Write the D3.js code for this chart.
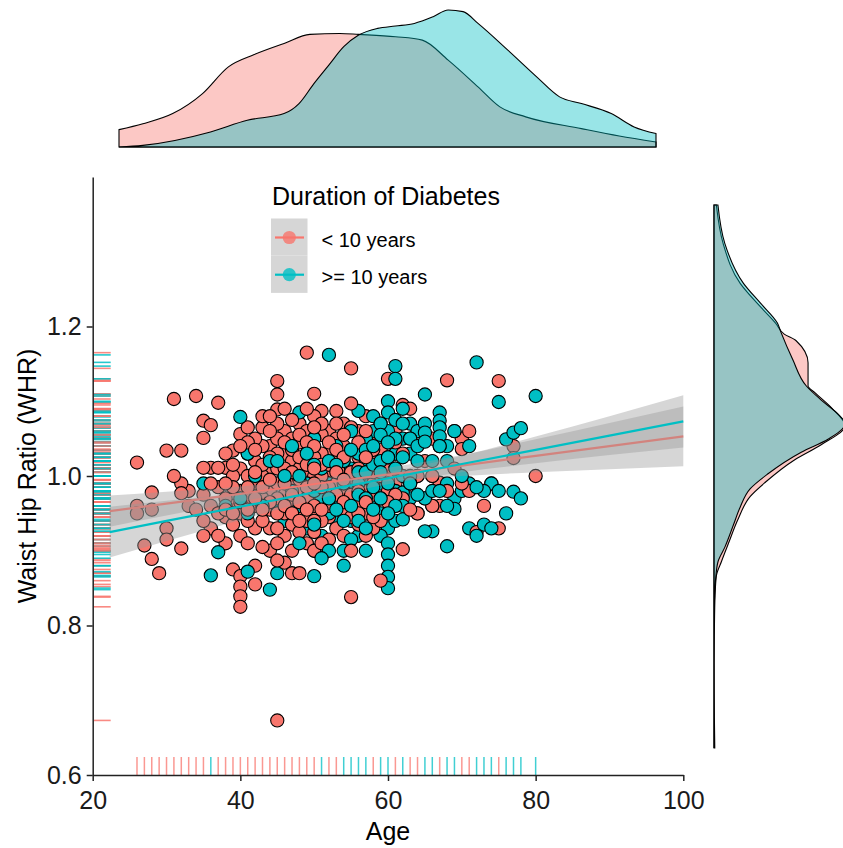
<!DOCTYPE html>
<html>
<head>
<meta charset="utf-8">
<script src="https://cdn.jsdelivr.net/npm/d3@7"></script>
<style>
  body { margin: 0; background: #fff; }
  text { font-family: "Liberation Sans", Arial, sans-serif; }
</style>
</head>
<body>
<div id="vis"></div>
<script>
// frame + panel sizes
const FRAME_WIDTH = 843;
const FRAME_HEIGHT = 848;
const PANEL = {left: 92.7, right: 683.3, top: 177, bottom: 775};

// group labels / colours
const groupLabels = ["< 10 years", ">= 10 years"];
const groupColors = ["#F8766D", "#00BFC4"];

// scatter data [age, WHR], duration < 10 years
const shortDuration = [
  [26,1.018],[26,0.96],[26,0.95],[27,0.907],[28,0.978],[28,0.955],[28,0.889],[29,0.87],
  [30,1.034],[30,0.93],[30,0.915],[31,1.103],[31,1.0],[32,1.034],[32,0.99],[32,0.977],[32,0.903],
  [33,0.98],[33,0.96],[34,1.107],[34,0.955],
  [35,1.074],[35,1.051],[35,1.011],[35,0.975],[35,0.94],[35,0.92],
  [36,1.068],[36,1.011],[36,0.96],[36,0.93],[36,0.99],
  [37,1.098],[37,1.011],[37,0.985],[37,0.92],[37,0.95],
  [38,1.011],[38,1.03],[38,0.97],[38,0.945],[38,0.91],[38,0.99],[38,0.955],
  [39,1.034],[39,1.0],[39,0.96],[39,0.875],[39,0.935],[39,0.985],[39,1.015],[39,0.95],
  [40,1.056],[40,1.01],[40,0.98],[40,0.95],[40,0.92],[40,0.866],[40,0.852],[40,0.839],[40,0.825],[40,0.965],[40,1.04],
  [41,1.065],[41,1.03],[41,1.0],[41,0.97],[41,0.94],[41,0.91],[41,0.985],[41,1.045],[41,0.955],
  [42,1.02],[42,0.99],[42,0.96],[42,0.93],[42,0.88],[42,0.855],[42,1.05],[42,0.97],[42,1.035],[42,1.005],
  [43,1.065],[43,1.04],[43,1.0],[43,0.97],[43,0.94],[43,0.905],[43,1.015],[43,0.985],[43,0.955],[43,1.08],
  [44,1.04],[44,1.01],[44,0.98],[44,0.955],[44,0.93],[44,0.9],[44,1.06],[44,0.965],[44,1.025],[44,0.995],[44,1.08],
  [45,1.127],[45,1.109],[45,1.089],[45,1.07],[45,1.05],[45,1.03],[45,1.01],[45,0.99],[45,0.97],[45,0.95],[45,0.93],[45,0.91],[45,0.887],[45,0.673],
  [46,1.06],[46,1.03],[46,1.0],[46,0.975],[46,0.95],[46,0.92],[46,0.884],[46,1.01],[46,1.045],[46,0.99],[46,0.96],[46,1.09],
  [47,1.05],[47,1.02],[47,0.99],[47,0.96],[47,0.935],[47,0.9],[47,0.87],[47,1.075],[47,1.035],[47,1.005],[47,0.975],[47,0.95],
  [48,1.07],[48,1.045],[48,1.01],[48,0.98],[48,0.95],[48,0.925],[48,0.87],[48,0.995],[48,1.055],[48,1.025],[48,0.965],[48,0.94],
  [49,1.165],[49,1.06],[49,1.03],[49,1.0],[49,0.97],[49,0.94],[49,0.91],[49,0.985],[49,1.045],[49,1.015],[49,0.955],[49,1.09],
  [50,1.11],[50,1.08],[50,1.05],[50,1.025],[50,1.0],[50,0.975],[50,0.95],[50,0.925],[50,0.9],[50,0.96],[50,1.065],[50,1.04],[50,1.01],[50,0.99],[50,0.94],
  [51,1.087],[51,1.055],[51,1.03],[51,1.0],[51,0.97],[51,0.94],[51,0.91],[51,1.07],[51,1.015],[51,0.985],[51,0.955],
  [52,1.06],[52,1.03],[52,1.0],[52,0.975],[52,0.945],[52,0.915],[52,1.045],[52,1.015],[52,0.985],[52,0.96],
  [53,1.087],[53,1.05],[53,1.02],[53,0.99],[53,0.96],[53,0.93],[53,1.07],[53,1.035],[53,1.005],[53,0.975],
  [54,1.07],[54,1.04],[54,1.01],[54,0.98],[54,0.95],[54,0.92],[54,1.055],[54,1.025],[54,0.995],[54,0.965],
  [55,1.144],[55,1.097],[55,1.065],[55,1.035],[55,1.005],[55,0.975],[55,0.945],[55,0.9],[55,0.838],
  [56,1.06],[56,1.025],[56,0.995],[56,0.965],[56,0.935],[56,1.045],[56,1.01],[56,0.98],[56,0.95],
  [57,1.08],[57,1.045],[57,1.01],[57,0.98],[57,0.95],[57,0.92],[57,1.06],[57,1.025],[57,0.965],
  [58,1.05],[58,1.02],[58,0.99],[58,0.96],[58,0.93],[58,1.035],[58,1.005],[58,0.975],[58,0.945],
  [59,1.07],[59,1.035],[59,1.0],[59,0.97],[59,0.94],[59,0.86],
  [60,1.13],[60,1.045],[60,1.01],[60,0.98],[60,0.95],[60,1.025],[60,0.995],[60,0.965],
  [61,1.06],[61,1.03],[61,0.99],[61,0.96],[61,1.045],[61,1.01],[61,0.975],
  [62,1.095],[62,1.03],[62,0.97],[62,0.902],
  [63,1.09],[63,1.05],[63,0.99],[63,0.955],
  [64,1.06],[64,1.0],[64,0.95],[65,1.02],[65,0.97],[66,1.05],[66,1.0],[66,0.96],
  [67,0.991],[67,0.96],[67,1.04],[68,1.128],[68,0.98],[69,1.06],[69,1.01],
  [70,1.05],[70,1.036],[70,0.99],[71,1.06],[71,0.98],[72,0.925],[73,0.96],[74,0.99],
  [75,1.127],[75,0.93],[77,1.04],[77,1.024],[80,1.0]
];

// scatter data [age, WHR], duration >= 10 years
const longDuration = [
  [35,0.99],[36,0.867],[37,0.898],[38,0.96],[40,1.079],[40,0.97],[41,1.03],[41,0.872],[41,0.95],
  [42,1.0],[43,0.96],[44,0.848],[44,1.02],[45,0.87],[45,0.96],[45,1.02],[46,0.94],[46,1.0],
  [47,0.98],[47,1.04],[48,1.085],[48,0.96],[48,0.91],[48,1.0],[49,0.93],[49,0.99],[49,1.03],
  [50,0.866],[50,0.95],[50,0.9],[50,0.98],[50,1.05],[50,1.015],[50,0.935],
  [51,0.92],[51,0.97],[51,1.01],[51,0.89],
  [52,1.162],[52,0.99],[52,0.95],[52,0.9],[52,1.02],[52,0.97],
  [53,1.0],[53,0.94],[53,1.04],[53,0.97],[53,1.015],[53,0.955],
  [54,0.9],[54,0.96],[54,1.02],[54,0.88],[54,0.99],[54,0.94],
  [55,0.98],[55,0.94],[55,1.01],[55,1.06],[55,0.915],[55,1.035],[55,0.96],
  [56,1.087],[56,0.96],[56,0.92],[56,1.03],[56,0.99],[56,1.005],[56,0.975],[56,0.94],
  [57,0.99],[57,0.95],[57,0.9],[57,1.05],[57,1.02],[57,1.035],[57,1.005],[57,0.97],[57,0.93],
  [58,1.06],[58,1.0],[58,0.93],[58,0.97],[58,1.08],[58,1.04],[58,1.015],[58,0.985],[58,0.955],
  [59,1.04],[59,0.99],[59,0.95],[59,0.92],[59,1.07],[59,1.055],[59,1.02],[59,1.005],[59,0.97],
  [60,1.1],[60,1.085],[60,1.06],[60,1.01],[60,0.97],[60,0.93],[60,0.91],[60,0.895],[60,0.88],[60,0.865],[60,0.85],
  [60,1.045],[60,1.025],[60,0.99],[60,0.95],
  [61,1.147],[61,1.13],[61,1.03],[61,0.98],[61,0.94],[61,1.075],[61,1.05],[61,1.01],[61,0.96],
  [62,1.09],[62,1.05],[62,1.0],[62,0.978],[62,0.96],[62,0.942],[62,1.025],[62,1.07],
  [63,1.07],[63,1.03],[63,0.97],[63,1.05],[63,1.0],[63,0.99],
  [64,1.06],[64,1.0],[64,0.95],[64,1.04],[64,1.02],[64,0.975],
  [65,1.109],[65,1.07],[65,1.058],[65,1.046],[65,0.97],[65,0.926],[66,0.926],[66,1.0],[66,0.96],[66,1.02],[66,0.98],
  [67,1.085],[67,1.074],[67,1.065],[67,1.053],[67,1.04],[67,0.98],[68,0.906],[68,0.99],[68,1.02],[68,1.04],[68,0.96],
  [69,0.97],[69,0.956],[69,1.06],[70,0.98],[70,1.0],[71,0.93],[71,0.99],[71,1.04],
  [72,1.152],[72,0.92],[72,0.985],[73,0.935],[73,0.98],[74,0.99],[74,0.93],[75,1.099],[75,0.98],
  [76,1.049],[76,0.95],[77,1.058],[77,0.979],[78,1.064],[78,0.97],[80,1.107]
];

// bottom rug: ages and which group shows on top (0 = <10, 1 = >=10)
const rugAges = [26,27,28,29,30,31,32,33,34,35,36,37,38,39,40,41,42,43,44,45,46,47,48,49,50,
  51,52,53,54,55,56,57,58,59,60,61,62,63,64,65,66,67,68,69,70,71,72,73,74,75,76,77,78,80];
const rugGroups = [0,0,0,0,0,0,0,0,0,0,1,0,0,0,0,0,0,0,0,0,0,0,0,0,0,
  1,0,0,1,1,1,1,0,1,1,0,1,0,0,1,1,0,1,1,0,0,1,1,1,0,1,1,1,1];

// linear fits with confidence half widths, read at these ages
const fitAges = [22.3, 30, 40, 50, 60, 70, 80, 90, 100];
const fitShort = [0.953, 0.963, 0.976, 0.989, 1.002, 1.014, 1.027, 1.040, 1.053];
const fitLong = [0.925, 0.940, 0.959, 0.978, 0.997, 1.016, 1.035, 1.054, 1.073];
const seShort = [0.021, 0.016, 0.010, 0.007, 0.009, 0.014, 0.022, 0.031, 0.040];
const seLong = [0.034, 0.027, 0.018, 0.010, 0.008, 0.011, 0.018, 0.026, 0.035];

// top marginal density of age (relative height)
const ageDensShortX = [26, 28.4, 31.4, 34.4, 37.0, 39.6, 42.6, 45.2, 48.2, 50.1, 53.8, 56.5, 59.1, 62.1, 64.3, 66.9, 72.5, 76.3, 80];
const ageDensShortY = [0.127, 0.17, 0.244, 0.39, 0.585, 0.675, 0.756, 0.822, 0.829, 0.822, 0.805, 0.78, 0.634, 0.439, 0.293, 0.22, 0.134, 0.08, 0.037];
const ageDensLongX = [26, 28.4, 35.2, 38.9, 42.6, 44.1, 45.6, 47.1, 48.6, 50.1, 52.0, 53.8, 55.7, 57.6, 59.1, 60.6, 62.1, 65.1, 68.0, 70.3, 72.5, 75.5, 77.8, 80];
const ageDensLongY = [0, 0.012, 0.11, 0.195, 0.244, 0.317, 0.463, 0.598, 0.732, 0.817, 0.866, 0.883, 0.902, 0.951, 1.0, 0.988, 0.902, 0.707, 0.512, 0.366, 0.317, 0.244, 0.146, 0.098];

// right marginal density of WHR (relative width)
const whrDensShortX = [1.165, 1.13, 1.094, 1.076, 1.058, 1.048, 1.042, 1.022, 1.001, 0.995, 0.981, 0.965, 0.948, 0.934, 0.914, 0.901, 0.881, 0.858, 0.842, 0.829, 0.811, 0.78, 0.75, 0.70, 0.673];
const whrDensShortY = [0.018, 0.07, 0.2, 0.329, 0.47, 0.536, 0.627, 0.718, 0.718, 0.77, 0.899, 1.0, 0.821, 0.614, 0.394, 0.277, 0.186, 0.109, 0.057, 0.018, 0.008, 0.003, 0.001, 0.003, 0.006];
const whrDensLongX = [1.165, 1.13, 1.094, 1.076, 1.058, 1.05, 1.025, 1.001, 0.988, 0.975, 0.967, 0.953, 0.941, 0.921, 0.908, 0.891, 0.875, 0.855, 0.842, 0.827, 0.811, 0.79, 0.673];
const whrDensLongY = [0.03, 0.083, 0.225, 0.355, 0.484, 0.51, 0.601, 0.705, 0.821, 0.951, 1.0, 0.873, 0.666, 0.407, 0.277, 0.199, 0.148, 0.083, 0.031, 0.013, 0.005, 0, 0];

// axis ticks
const xTicks = [20, 40, 60, 80, 100];
const yTicks = [0.6, 0.8, 1.0, 1.2];

const FRAME = d3.select("#vis")
  .append("svg")
  .attr("width", FRAME_WIDTH)
  .attr("height", FRAME_HEIGHT);

// scales for main panel
const X_SCALE = d3.scaleLinear().domain([20, 100]).range([PANEL.left, PANEL.right]);
const Y_SCALE = d3.scaleLinear().domain([0.6, 1.4]).range([PANEL.bottom, PANEL.top]);

// scales for marginal plots
const TOP_X = d3.scaleLinear().domain([26, 80]).range([119, 656]);
const TOP_Y = d3.scaleLinear().domain([0, 1]).range([147, 10]);
const RIGHT_Y = d3.scaleLinear().domain([0.673, 1.165]).range([748, 205]);
const RIGHT_X = d3.scaleLinear().domain([0, 1]).range([714, 845]);

// top density
function topDensity(xs, ys, color) {
  const pts = xs.map((x, i) => [x, ys[i]]);
  const area = d3.area()
    .x(d => TOP_X(d[0]))
    .y0(TOP_Y(0))
    .y1(d => TOP_Y(d[1]))
    .curve(d3.curveMonotoneX);
  FRAME.append("path")
    .attr("d", area(pts) + "Z")
    .attr("fill", color)
    .attr("fill-opacity", 0.4)
    .attr("stroke", "black")
    .attr("stroke-width", 1.1);
}
topDensity(ageDensShortX, ageDensShortY, groupColors[0]);
topDensity(ageDensLongX, ageDensLongY, groupColors[1]);

// right density
function rightDensity(ys, ws, color) {
  const pts = ys.map((y, i) => [y, ws[i]]);
  const area = d3.area()
    .y(d => RIGHT_Y(d[0]))
    .x0(RIGHT_X(0))
    .x1(d => RIGHT_X(d[1]))
    .curve(d3.curveMonotoneY);
  FRAME.append("path")
    .attr("d", area(pts) + "Z")
    .attr("fill", color)
    .attr("fill-opacity", 0.4)
    .attr("stroke", "black")
    .attr("stroke-width", 1.1);
}
rightDensity(whrDensShortX, whrDensShortY, groupColors[0]);
rightDensity(whrDensLongX, whrDensLongY, groupColors[1]);

// merge both groups; draw order mixes them inside every age column
const allPoints = [];
[shortDuration, longDuration].forEach((arr, g) => {
  const counts = d3.rollup(arr, v => v.length, d => d[0]);
  const seen = new Map();
  arr.forEach(p => {
    const r = seen.get(p[0]) || 0;
    seen.set(p[0], r + 1);
    allPoints.push({age: p[0], whr: p[1], g: g, k: (r + 0.3 + 0.4 * g) / counts.get(p[0])});
  });
});
allPoints.sort((a, b) => a.k - b.k);

FRAME.append("g").selectAll("circle")
  .data(allPoints)
  .enter()
  .append("circle")
  .attr("cx", d => X_SCALE(d.age))
  .attr("cy", d => Y_SCALE(d.whr))
  .attr("r", 6.6)
  .attr("fill", d => groupColors[d.g])
  .attr("stroke", "black")
  .attr("stroke-width", 1.1);

// left rug from the WHR values, same order as the points
FRAME.append("g").selectAll("line")
  .data(allPoints)
  .enter()
  .append("line")
  .attr("x1", PANEL.left + 1)
  .attr("x2", PANEL.left + 18)
  .attr("y1", d => Y_SCALE(d.whr))
  .attr("y2", d => Y_SCALE(d.whr))
  .attr("stroke", d => groupColors[d.g])
  .attr("stroke-opacity", 0.85)
  .attr("stroke-width", 1.6);

// bottom rug
FRAME.append("g").selectAll("line")
  .data(rugAges)
  .enter()
  .append("line")
  .attr("x1", d => X_SCALE(d))
  .attr("x2", d => X_SCALE(d))
  .attr("y1", PANEL.bottom - 18)
  .attr("y2", PANEL.bottom)
  .attr("stroke", (d, i) => groupColors[rugGroups[i]])
  .attr("stroke-opacity", 0.75)
  .attr("stroke-width", 1.5);

// confidence bands + fitted lines, one group at a time
function smooth(fit, se, color) {
  const pts = fitAges.map((a, i) => ({a: a, f: fit[i], s: se[i]}));
  const band = d3.area()
    .x(d => X_SCALE(d.a))
    .y0(d => Y_SCALE(d.f - d.s))
    .y1(d => Y_SCALE(d.f + d.s))
    .curve(d3.curveMonotoneX);
  FRAME.append("path")
    .attr("d", band(pts))
    .attr("fill", "#999999")
    .attr("fill-opacity", 0.4);
  const line = d3.line()
    .x(d => X_SCALE(d.a))
    .y(d => Y_SCALE(d.f));
  FRAME.append("path")
    .attr("d", line(pts))
    .attr("fill", "none")
    .attr("stroke", color)
    .attr("stroke-width", 2.2);
}
smooth(fitShort, seShort, groupColors[0]);
smooth(fitLong, seLong, groupColors[1]);

// axes
const xAxis = FRAME.append("g")
  .attr("transform", "translate(0," + PANEL.bottom + ")")
  .call(d3.axisBottom(X_SCALE).tickValues(xTicks).tickSize(6).tickSizeOuter(0).tickPadding(10));
const yAxis = FRAME.append("g")
  .attr("transform", "translate(" + PANEL.left + ",0)")
  .call(d3.axisLeft(Y_SCALE).tickValues(yTicks).tickFormat(d3.format(".1f")).tickSize(6).tickSizeOuter(0).tickPadding(5));

[xAxis, yAxis].forEach(ax => {
  ax.select(".domain").attr("stroke", "#222").attr("stroke-width", 1.5);
  ax.selectAll(".tick line").attr("stroke", "#222").attr("stroke-width", 1.5);
  ax.selectAll(".tick text")
    .attr("font-size", "25px")
    .attr("font-family", "Liberation Sans, Arial, sans-serif")
    .attr("fill", "#1a1a1a");
});

// axis titles
FRAME.append("text")
  .attr("x", (PANEL.left + PANEL.right) / 2)
  .attr("y", 840)
  .attr("text-anchor", "middle")
  .attr("font-size", "25px")
  .text("Age");

FRAME.append("text")
  .attr("transform", "translate(36," + ((PANEL.top + PANEL.bottom) / 2) + ") rotate(-90)")
  .attr("text-anchor", "middle")
  .attr("font-size", "25px")
  .text("Waist Hip Ratio (WHR)");

// legend
const LEGEND = FRAME.append("g").attr("transform", "translate(271,0)");
LEGEND.append("text")
  .attr("x", 1)
  .attr("y", 205)
  .attr("font-size", "25px")
  .text("Duration of Diabetes");

groupLabels.forEach((lab, i) => {
  const top = 218.5 + i * 37.2;
  LEGEND.append("rect")
    .attr("x", 0)
    .attr("y", top)
    .attr("width", 36.5)
    .attr("height", 37.2)
    .attr("fill", "#d6d6d6");
  LEGEND.append("line")
    .attr("x1", 4)
    .attr("x2", 33)
    .attr("y1", top + 19)
    .attr("y2", top + 19)
    .attr("stroke", groupColors[i])
    .attr("stroke-width", 2.2);
  LEGEND.append("circle")
    .attr("cx", 18.3)
    .attr("cy", top + 19)
    .attr("r", 6.6)
    .attr("fill", groupColors[i])
    .attr("fill-opacity", 0.8);
  LEGEND.append("text")
    .attr("x", 50.5)
    .attr("y", top + 28.5)
    .attr("font-size", "20px")
    .text(lab);
});
</script>
</body>
</html>
